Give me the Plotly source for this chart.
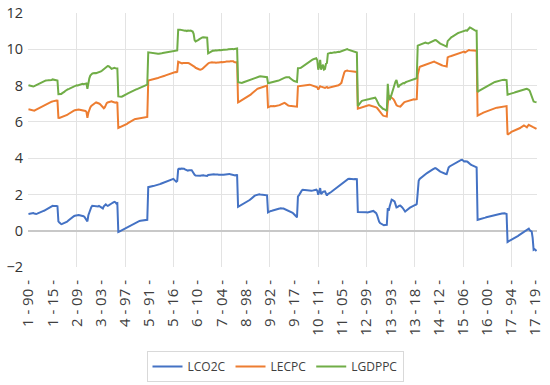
import plotly.graph_objects as go

COUNTRIES = list(range(1, 18))
YEARS = list(range(1990, 2021))

LCO2C = [
    0.92, 0.93, 0.95, 0.96, 0.99, 0.97, 0.95, 0.93, 0.92, 0.94, 0.97, 0.99, 1.01, 1.03, 1.05, 1.08, 1.10, 1.13, 1.16, 1.19, 1.23, 1.26, 1.30, 1.33, 1.36, 1.37, 1.36, 1.37, 1.38, 1.36, 1.35,
    0.51, 0.45, 0.40, 0.36, 0.38, 0.40, 0.42, 0.44, 0.47, 0.50, 0.55, 0.60, 0.65, 0.70, 0.74, 0.78, 0.80, 0.82, 0.84, 0.86, 0.87, 0.86, 0.85, 0.84, 0.84, 0.83, 0.80, 0.76, 0.69, 0.60, 0.51,
    0.85, 1.05, 1.20, 1.30, 1.37, 1.36, 1.35, 1.34, 1.33, 1.32, 1.34, 1.37, 1.34, 1.30, 1.26, 1.23, 1.35, 1.42, 1.45, 1.40, 1.37, 1.40, 1.45, 1.48, 1.50, 1.53, 1.56, 1.59, 1.57, 1.50, 1.52,
    -0.07, -0.05, -0.02, 0.00, 0.03, 0.05, 0.08, 0.10, 0.13, 0.16, 0.19, 0.22, 0.25, 0.28, 0.31, 0.35, 0.38, 0.42, 0.44, 0.46, 0.49, 0.52, 0.54, 0.55, 0.56, 0.57, 0.57, 0.58, 0.59, 0.60, 0.60,
    2.40, 2.42, 2.43, 2.44, 2.45, 2.46, 2.47, 2.48, 2.50, 2.51, 2.53, 2.55, 2.57, 2.59, 2.61, 2.64, 2.66, 2.68, 2.70, 2.72, 2.74, 2.76, 2.77, 2.79, 2.81, 2.84, 2.86, 2.80, 2.72, 2.70, 2.74,
    3.38, 3.42, 3.40, 3.43, 3.44, 3.44, 3.42, 3.38, 3.34, 3.32, 3.31, 3.33, 3.34, 3.35, 3.33, 3.25, 3.15, 3.08, 3.04, 3.03, 3.02, 3.01, 3.00, 3.03, 3.05, 3.07, 3.06, 3.04, 3.03, 3.00, 3.02,
    3.07, 3.08, 3.06, 3.08, 3.10, 3.09, 3.11, 3.10, 3.11, 3.12, 3.10, 3.09, 3.08, 3.10, 3.07, 3.08, 3.09, 3.10, 3.11, 3.12, 3.13, 3.12, 3.13, 3.11, 3.10, 3.08, 3.06, 3.04, 3.05, 3.07, 3.06,
    1.32, 1.35, 1.38, 1.40, 1.43, 1.45, 1.48, 1.51, 1.54, 1.57, 1.59, 1.64, 1.69, 1.74, 1.80, 1.86, 1.89, 1.92, 1.95, 1.97, 1.99, 2.00, 2.01, 2.00, 1.99, 2.00, 1.99, 1.98, 1.97, 1.96, 1.95,
    1.01, 1.05, 1.08, 1.09, 1.10, 1.11, 1.13, 1.16, 1.15, 1.17, 1.19, 1.20, 1.22, 1.24, 1.25, 1.23, 1.22, 1.20, 1.18, 1.16, 1.14, 1.12, 1.10, 1.07, 1.03, 1.00, 0.96, 0.92, 0.88, 0.80, 0.73,
    1.89, 1.95, 2.05, 2.15, 2.22, 2.26, 2.25, 2.26, 2.25, 2.26, 2.24, 2.23, 2.22, 2.21, 2.20, 2.21, 2.22, 2.24, 2.25, 2.26, 2.20, 1.98, 2.15, 2.35, 2.02, 2.10, 2.14, 2.16, 2.17, 2.05, 1.94,
    2.02, 2.04, 2.08, 2.12, 2.16, 2.20, 2.24, 2.28, 2.32, 2.36, 2.40, 2.44, 2.49, 2.54, 2.59, 2.63, 2.68, 2.72, 2.77, 2.81, 2.84, 2.85, 2.86, 2.85, 2.86, 2.86, 2.85, 2.84, 2.85, 2.84, 2.84,
    1.03, 1.03, 1.04, 1.05, 1.06, 1.06, 1.05, 1.04, 1.03, 1.02, 1.01, 1.02, 1.04, 1.06, 1.08, 1.10, 1.09, 1.05, 1.00, 0.97, 0.85, 0.65, 0.50, 0.42, 0.38, 0.33, 0.29, 0.30, 0.31, 0.33, 0.32,
    1.25, 1.10, 1.35, 1.60, 1.71, 1.68, 1.65, 1.61, 1.45, 1.28, 1.30, 1.35, 1.38, 1.39, 1.35, 1.28, 1.21, 1.15, 1.06, 1.10, 1.15, 1.21, 1.24, 1.27, 1.30, 1.34, 1.36, 1.38, 1.41, 1.43, 1.47,
    2.10, 2.75, 2.85, 2.90, 2.93, 2.97, 3.02, 3.08, 3.12, 3.15, 3.19, 3.23, 3.27, 3.30, 3.34, 3.36, 3.39, 3.42, 3.45, 3.43, 3.38, 3.33, 3.30, 3.27, 3.24, 3.21, 3.18, 3.16, 3.14, 3.13, 3.12,
    3.40, 3.48, 3.54, 3.57, 3.61, 3.64, 3.67, 3.70, 3.72, 3.75, 3.79, 3.84, 3.86, 3.88, 3.90, 3.91, 3.85, 3.82, 3.83, 3.84, 3.82, 3.78, 3.72, 3.67, 3.64, 3.61, 3.59, 3.57, 3.54, 3.51, 3.49,
    0.60, 0.61, 0.62, 0.64, 0.66, 0.68, 0.70, 0.71, 0.72, 0.74, 0.75, 0.76, 0.77, 0.79, 0.80, 0.81, 0.83, 0.84, 0.86, 0.87, 0.88, 0.89, 0.90, 0.92, 0.93, 0.95, 0.96, 0.97, 0.96, 0.94, 0.92,
    -0.62, -0.59, -0.57, -0.54, -0.52, -0.50, -0.47, -0.43, -0.39, -0.35, -0.31, -0.28, -0.24, -0.20, -0.17, -0.13, -0.09, -0.05, -0.02, 0.02, 0.06, 0.09, 0.11, 0.02, -0.04, -0.05, -0.40, -1.05, -1.02, -1.08, -1.12,
]

LECPC = [
    6.69, 6.68, 6.66, 6.63, 6.61, 6.60, 6.62, 6.65, 6.68, 6.71, 6.74, 6.77, 6.79, 6.82, 6.85, 6.88, 6.90, 6.93, 6.96, 6.99, 7.02, 7.05, 7.07, 7.09, 7.11, 7.13, 7.15, 7.17, 7.16, 7.18, 7.17,
    6.22, 6.21, 6.23, 6.24, 6.25, 6.26, 6.28, 6.31, 6.35, 6.38, 6.42, 6.46, 6.50, 6.54, 6.57, 6.60, 6.62, 6.64, 6.66, 6.68, 6.69, 6.68, 6.67, 6.66, 6.65, 6.64, 6.63, 6.62, 6.60, 6.55, 6.22,
    6.50, 6.70, 6.80, 6.88, 6.93, 6.97, 7.01, 7.04, 7.07, 7.06, 7.04, 7.01, 6.98, 6.92, 6.86, 6.82, 6.75, 6.80, 6.95, 7.03, 7.07, 7.09, 7.11, 7.12, 7.13, 7.11, 7.09, 7.07, 7.06, 7.08, 7.06,
    5.66, 5.68, 5.70, 5.72, 5.74, 5.76, 5.78, 5.80, 5.84, 5.88, 5.93, 5.96, 6.00, 6.04, 6.08, 6.12, 6.14, 6.15, 6.16, 6.17, 6.18, 6.19, 6.19, 6.20, 6.21, 6.22, 6.23, 6.24, 6.25, 6.26, 6.27,
    8.28, 8.29, 8.30, 8.32, 8.33, 8.35, 8.37, 8.38, 8.40, 8.41, 8.42, 8.44, 8.45, 8.47, 8.48, 8.50, 8.52, 8.54, 8.56, 8.58, 8.60, 8.62, 8.64, 8.66, 8.69, 8.70, 8.72, 8.73, 8.75, 8.74, 8.76,
    9.31, 9.28, 9.25, 9.21, 9.22, 9.24, 9.25, 9.26, 9.24, 9.25, 9.25, 9.23, 9.20, 9.17, 9.14, 9.12, 9.08, 9.03, 8.98, 8.95, 8.93, 8.91, 8.89, 8.88, 8.88, 8.92, 8.97, 9.03, 9.08, 9.16, 9.20,
    9.22, 9.25, 9.27, 9.26, 9.28, 9.27, 9.29, 9.27, 9.26, 9.28, 9.27, 9.27, 9.29, 9.28, 9.30, 9.29, 9.31, 9.30, 9.31, 9.32, 9.31, 9.33, 9.32, 9.34, 9.35, 9.33, 9.34, 9.30, 9.28, 9.27, 9.29,
    7.07, 7.10, 7.13, 7.17, 7.20, 7.24, 7.26, 7.29, 7.32, 7.35, 7.38, 7.41, 7.44, 7.50, 7.55, 7.60, 7.66, 7.72, 7.76, 7.80, 7.82, 7.84, 7.86, 7.88, 7.90, 7.92, 7.94, 7.96, 7.97, 7.99, 8.00,
    6.80, 6.84, 6.86, 6.87, 6.86, 6.88, 6.87, 6.86, 6.87, 6.88, 6.87, 6.89, 6.92, 6.95, 6.97, 7.00, 7.03, 7.05, 7.02, 6.96, 6.92, 6.90, 6.89, 6.88, 6.87, 6.86, 6.85, 6.85, 6.84, 6.83, 6.84,
    7.96, 7.97, 7.98, 7.99, 8.00, 8.00, 8.01, 8.02, 8.03, 8.04, 8.05, 8.06, 8.05, 8.04, 8.02, 8.01, 8.00, 7.98, 7.96, 7.93, 7.90, 7.78, 7.92, 7.96, 7.94, 7.92, 7.90, 7.88, 7.87, 7.90, 7.92,
    7.87, 7.88, 7.90, 7.92, 7.94, 7.96, 7.97, 7.98, 7.99, 8.00, 8.00, 8.02, 8.05, 8.10, 8.15, 8.35, 8.60, 8.72, 8.80, 8.82, 8.83, 8.81, 8.80, 8.79, 8.78, 8.78, 8.77, 8.76, 8.76, 8.75, 8.75,
    6.73, 6.75, 6.77, 6.79, 6.81, 6.83, 6.85, 6.86, 6.88, 6.89, 6.90, 6.91, 6.91, 6.90, 6.89, 6.88, 6.87, 6.86, 6.83, 6.80, 6.76, 6.68, 6.60, 6.52, 6.45, 6.40, 6.35, 6.33, 6.31, 6.30, 6.29,
    7.00, 7.38, 7.42, 7.38, 7.32, 7.26, 7.24, 7.15, 7.02, 6.92, 6.88, 6.86, 6.85, 6.84, 6.90, 6.97, 7.05, 7.08, 7.10, 7.12, 7.14, 7.15, 7.17, 7.19, 7.20, 7.22, 7.24, 7.24, 7.23, 7.24, 7.25,
    8.60, 8.95, 9.03, 9.05, 9.07, 9.09, 9.11, 9.14, 9.16, 9.18, 9.20, 9.22, 9.24, 9.27, 9.29, 9.31, 9.33, 9.32, 9.29, 9.26, 9.24, 9.22, 9.19, 9.16, 9.14, 9.12, 9.10, 9.09, 9.07, 9.06, 9.05,
    9.55, 9.60, 9.61, 9.62, 9.64, 9.65, 9.66, 9.68, 9.69, 9.70, 9.72, 9.74, 9.76, 9.78, 9.80, 9.83, 9.86, 9.87, 9.82, 9.85, 9.90, 9.94, 9.96, 9.95, 9.94, 9.93, 9.93, 9.92, 9.93, 9.93, 9.92,
    6.34, 6.36, 6.39, 6.42, 6.45, 6.48, 6.51, 6.53, 6.56, 6.58, 6.61, 6.63, 6.66, 6.69, 6.70, 6.71, 6.73, 6.74, 6.76, 6.77, 6.78, 6.79, 6.80, 6.82, 6.83, 6.85, 6.86, 6.87, 6.87, 6.88, 6.87,
    5.30, 5.32, 5.36, 5.40, 5.45, 5.47, 5.50, 5.52, 5.55, 5.57, 5.58, 5.60, 5.63, 5.66, 5.70, 5.74, 5.78, 5.80, 5.77, 5.73, 5.70, 5.78, 5.84, 5.80, 5.76, 5.74, 5.72, 5.70, 5.67, 5.64, 5.61,
]

LGDPPC = [
    8.02, 8.00, 7.98, 7.96, 7.95, 7.95, 7.97, 8.00, 8.02, 8.05, 8.08, 8.12, 8.15, 8.18, 8.20, 8.22, 8.24, 8.26, 8.28, 8.27, 8.29, 8.30, 8.30, 8.29, 8.31, 8.34, 8.33, 8.30, 8.30, 8.31, 8.28,
    7.53, 7.52, 7.55, 7.54, 7.58, 7.60, 7.65, 7.70, 7.75, 7.76, 7.80, 7.82, 7.85, 7.87, 7.90, 7.93, 7.97, 8.00, 8.00, 8.02, 8.01, 8.03, 8.05, 8.06, 8.08, 8.10, 8.08, 8.10, 8.12, 8.12, 7.82,
    8.20, 8.40, 8.55, 8.62, 8.66, 8.68, 8.70, 8.69, 8.68, 8.70, 8.72, 8.71, 8.74, 8.78, 8.82, 8.86, 8.90, 8.95, 9.00, 9.05, 9.08, 9.07, 9.04, 8.98, 8.92, 8.95, 8.99, 8.98, 8.96, 8.97, 8.95,
    7.40, 7.38, 7.37, 7.38, 7.40, 7.42, 7.45, 7.48, 7.51, 7.54, 7.57, 7.60, 7.63, 7.66, 7.69, 7.72, 7.74, 7.76, 7.78, 7.80, 7.82, 7.84, 7.86, 7.88, 7.91, 7.93, 7.95, 7.97, 8.00, 8.03, 8.05,
    9.83, 9.82, 9.80, 9.78, 9.77, 9.76, 9.75, 9.74, 9.74, 9.73, 9.75, 9.76, 9.78, 9.77, 9.78, 9.79, 9.80, 9.81, 9.82, 9.83, 9.84, 9.85, 9.86, 9.87, 9.89, 9.88, 9.90, 9.91, 9.93, 9.92, 9.94,
    11.08, 11.06, 11.08, 11.07, 11.05, 11.06, 11.04, 11.02, 11.03, 11.00, 11.03, 11.01, 11.02, 11.03, 11.00, 10.98, 10.85, 10.50, 10.43, 10.45, 10.48, 10.52, 10.56, 10.60, 10.63, 10.65, 10.66, 10.65, 10.67, 10.66, 10.64,
    9.78, 9.82, 9.86, 9.89, 9.91, 9.93, 9.92, 9.94, 9.95, 9.93, 9.95, 9.96, 9.96, 9.95, 9.97, 9.96, 9.98, 9.97, 9.99, 10.00, 9.99, 10.00, 10.01, 9.99, 10.00, 10.02, 10.00, 10.01, 10.03, 10.06, 10.04,
    8.19, 8.17, 8.15, 8.13, 8.14, 8.17, 8.19, 8.22, 8.24, 8.26, 8.28, 8.30, 8.32, 8.35, 8.37, 8.40, 8.42, 8.44, 8.45, 8.47, 8.48, 8.49, 8.50, 8.51, 8.50, 8.49, 8.50, 8.51, 8.50, 8.47, 8.46,
    8.13, 8.14, 8.15, 8.16, 8.18, 8.19, 8.20, 8.22, 8.23, 8.24, 8.26, 8.28, 8.30, 8.33, 8.36, 8.39, 8.42, 8.44, 8.45, 8.46, 8.47, 8.47, 8.46, 8.40, 8.34, 8.32, 8.28, 8.25, 8.24, 8.22, 8.20,
    8.96, 8.95, 8.97, 8.98, 9.02, 9.08, 9.12, 9.15, 9.18, 9.22, 9.26, 9.30, 9.33, 9.36, 9.40, 9.43, 9.45, 9.48, 9.50, 9.51, 9.40, 8.88, 9.05, 9.42, 8.88, 9.10, 9.15, 8.88, 8.92, 9.20, 9.24,
    9.76, 9.79, 9.80, 9.81, 9.80, 9.82, 9.81, 9.83, 9.82, 9.84, 9.85, 9.86, 9.85, 9.87, 9.88, 9.89, 9.90, 9.92, 9.94, 10.00, 10.01, 9.98, 9.96, 9.93, 9.90, 9.88, 9.87, 9.86, 9.84, 9.83, 9.82,
    6.87, 6.95, 7.03, 7.10, 7.15, 7.17, 7.19, 7.21, 7.23, 7.24, 7.24, 7.25, 7.26, 7.27, 7.27, 7.28, 7.30, 7.31, 7.33, 7.25, 7.12, 7.00, 6.92, 6.87, 6.80, 6.76, 6.72, 6.70, 6.69, 6.65, 6.60,
    8.10, 7.40, 7.20, 7.35, 7.55, 7.70, 7.90, 8.15, 8.22, 8.30, 8.10, 7.90, 8.00, 8.03, 8.06, 8.10, 8.14, 8.12, 8.18, 8.20, 8.22, 8.24, 8.25, 8.28, 8.27, 8.30, 8.31, 8.33, 8.34, 8.37, 8.40,
    10.20, 10.22, 10.24, 10.27, 10.30, 10.32, 10.34, 10.36, 10.37, 10.35, 10.33, 10.32, 10.36, 10.39, 10.42, 10.45, 10.47, 10.49, 10.51, 10.50, 10.45, 10.38, 10.35, 10.33, 10.30, 10.27, 10.24, 10.22, 10.20, 10.17, 10.15,
    10.45, 10.52, 10.57, 10.62, 10.67, 10.70, 10.74, 10.78, 10.82, 10.85, 10.88, 10.90, 10.92, 10.94, 10.95, 10.97, 10.99, 11.02, 11.05, 11.04, 11.02, 11.10, 11.18, 11.20, 11.18, 11.15, 11.12, 11.05, 11.03, 11.02, 11.02,
    7.65, 7.69, 7.72, 7.75, 7.78, 7.82, 7.86, 7.88, 7.91, 7.94, 7.97, 8.00, 8.05, 8.10, 8.12, 8.14, 8.16, 8.18, 8.20, 8.22, 8.24, 8.25, 8.27, 8.28, 8.29, 8.30, 8.31, 8.33, 8.32, 8.31, 8.30,
    7.50, 7.51, 7.53, 7.55, 7.57, 7.58, 7.60, 7.61, 7.63, 7.65, 7.67, 7.69, 7.70, 7.72, 7.74, 7.76, 7.78, 7.79, 7.80, 7.81, 7.82, 7.80, 7.77, 7.70, 7.55, 7.42, 7.25, 7.12, 7.10, 7.09, 7.08,
]

CATEGORIES = [f"{c} - {y % 100:02d} -" for c in COUNTRIES for y in YEARS]
TICK_STEP = 25
GRID_STEP = 50

n = len(CATEGORIES)
idx = list(range(n))
tick_idx = list(range(0, n, TICK_STEP))
tick_text = [CATEGORIES[i] for i in tick_idx]
grid_idx = list(range(GRID_STEP, n, GRID_STEP))

series = [("LCO2C", LCO2C, "#4472C4"),
          ("LECPC", LECPC, "#ED7D31"),
          ("LGDPPC", LGDPPC, "#70AD47")]

fig = go.Figure()
for name, vals, color in series:
    fig.add_trace(go.Scatter(x=idx, y=vals, mode="lines", name=name,
                             line=dict(color=color, width=2),
                             text=CATEGORIES, hovertemplate="%{text}: %{y}<extra>" + name + "</extra>"))

FONT = "Open Sans, Liberation Sans, sans-serif"
fig.update_layout(
    width=550, height=385,
    margin=dict(l=28, r=13, t=13, b=118, autoexpand=False),
    paper_bgcolor="white", plot_bgcolor="white",
    font=dict(family=FONT, color="#404040"),
    showlegend=True,
    legend=dict(orientation="h", x=0.5, xanchor="center", xref="container",
                y=1 - 351 / 385, yanchor="top", yref="container",
                bordercolor="#d9d9d9", borderwidth=1, font=dict(size=12, color="#404040"),
                itemwidth=30, tracegroupgap=0),
    xaxis=dict(range=[-0.5, n - 0.5], tickmode="array", tickvals=tick_idx, ticktext=tick_text,
               tickangle=-90, showgrid=False, zeroline=False, showline=False, ticks="",
               automargin=False,
               tickfont=dict(size=15, color="#404040"), ticklabelstandoff=9,
               minor=dict(tickmode="array", tickvals=grid_idx, showgrid=True,
                          gridcolor="#e3e3e3", gridwidth=1, ticks="")),
    yaxis=dict(range=[-2, 12], tickmode="linear", tick0=0, dtick=2, showgrid=True,
               gridcolor="#e3e3e3", gridwidth=1, zeroline=True, zerolinecolor="#c8c8c8",
               zerolinewidth=2, showline=False, ticks="", automargin=False,
               tickfont=dict(size=14.5, color="#333333"), ticklabelstandoff=4),
)

fig.write_html("out.html", config={"displayModeBar": False},
               post_script="document.body.style.margin='0';document.body.style.overflow='hidden';")
